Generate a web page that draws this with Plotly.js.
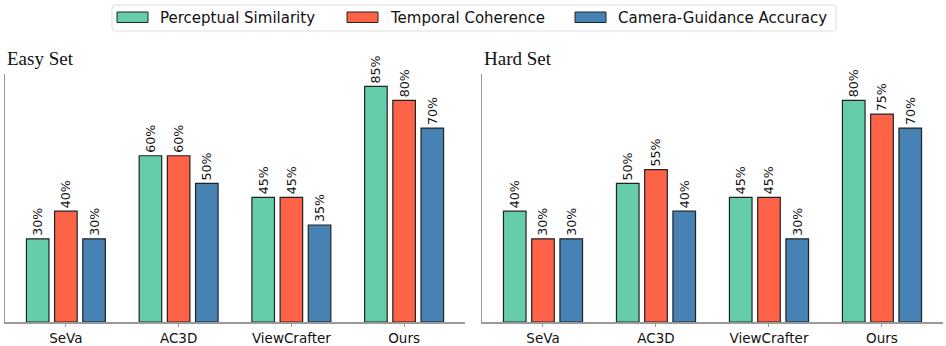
<!DOCTYPE html>
<html>
<head>
<meta charset="utf-8">
<script src="https://cdn.plot.ly/plotly-3.0.1.min.js"></script>
<style>
  body { margin: 0; padding: 0; background: #fff; }
  #chart { width: 946px; height: 346px; }
</style>
</head>
<body>
<div id="chart"></div>
<script>
const methods = ["SeVa", "AC3D", "ViewCrafter", "Ours"];
const seriesNames = ["Perceptual Similarity", "Temporal Coherence", "Camera-Guidance Accuracy"];
const seriesColors = ["#66CDAA", "#FF6347", "#4682B4"];

// easy set scores (%)
const easyPerceptual = [30, 60, 45, 85];
const easyTemporal = [40, 60, 45, 80];
const easyCamera = [30, 50, 35, 70];

// hard set scores (%)
const hardPerceptual = [40, 50, 45, 80];
const hardTemporal = [30, 55, 45, 75];
const hardCamera = [30, 40, 30, 70];

// page geometry (px)
const W = 946, H = 346;
const M = { l: 5, r: 3, t: 74, b: 24 };
// convert page pixels to paper coords (for the hand-made legend)
function px2x(px) { return (px - M.l) / (W - M.l - M.r); }
function px2y(py) { return (H - M.b - py) / (H - M.t - M.b); }

function makeTraces(values, xa, ya) {
  return values.map(function (v, i) {
    return {
      type: "bar",
      x: methods,
      y: v,
      name: seriesNames[i],
      showlegend: false,
      xaxis: xa,
      yaxis: ya,
      marker: { color: seriesColors[i], line: { color: "#222", width: 1.2 } },
      texttemplate: "%{y}%",
      textposition: "outside",
      textangle: -90,
      constraintext: "none",
      cliponaxis: false,
      textfont: { family: "DejaVu Sans", size: 12.6, color: "#111" },
      hoverinfo: "skip"
    };
  });
}

let data = makeTraces([easyPerceptual, easyTemporal, easyCamera], "x", "y")
  .concat(makeTraces([hardPerceptual, hardTemporal, hardCamera], "x2", "y2"));

let xaxisStyle = {
  showline: true,
  linecolor: "#999",
  linewidth: 1.5,
  ticks: "outside",
  ticklen: 3,
  tickcolor: "#999",
  showgrid: false,
  zeroline: false,
  range: [-0.54, 3.54],
  tickfont: { family: "DejaVu Sans", size: 13.5, color: "#111" }
};
let yaxisStyle = {
  range: [0, 89.5],
  showline: true,
  linecolor: "#999",
  linewidth: 1.2,
  showticklabels: false,
  ticks: "",
  showgrid: false,
  zeroline: false
};

let titleFont = { family: "Liberation Serif, Times New Roman, serif", size: 19, color: "#111" };

// legend drawn by hand so the patches are wide like the original
let shapes = [];
let annotations = [
  { text: "Easy Set", xref: "x domain", yref: "y domain", x: 0, y: 1, xanchor: "left", yanchor: "bottom", yshift: 3, showarrow: false, font: titleFont },
  { text: "Hard Set", xref: "x2 domain", yref: "y2 domain", x: 0, y: 1, xanchor: "left", yanchor: "bottom", yshift: 3, showarrow: false, font: titleFont }
];
const legendBox = { x0: 112, x1: 836, y0: 5, y1: 31 };
const legendStarts = [117, 347, 575];
let r = 3;
let bx0 = px2x(legendBox.x0), bx1 = px2x(legendBox.x1);
let by0 = px2y(legendBox.y1), by1 = px2y(legendBox.y0);
let rx = r / (W - M.l - M.r), ry = r / (H - M.t - M.b);
shapes.push({
  type: "path", xref: "paper", yref: "paper",
  path: "M" + (bx0 + rx) + "," + by1 + " L" + (bx1 - rx) + "," + by1 +
        " Q" + bx1 + "," + by1 + " " + bx1 + "," + (by1 - ry) +
        " L" + bx1 + "," + (by0 + ry) + " Q" + bx1 + "," + by0 + " " + (bx1 - rx) + "," + by0 +
        " L" + (bx0 + rx) + "," + by0 + " Q" + bx0 + "," + by0 + " " + bx0 + "," + (by0 + ry) +
        " L" + bx0 + "," + (by1 - ry) + " Q" + bx0 + "," + by1 + " " + (bx0 + rx) + "," + by1 + " Z",
  line: { color: "#ddd", width: 1 },
  fillcolor: "rgba(255,255,255,0.8)"
});
seriesNames.forEach(function (name, i) {
  let s = legendStarts[i];
  shapes.push({
    type: "rect", xref: "paper", yref: "paper",
    x0: px2x(s), x1: px2x(s + 31), y0: px2y(22.5), y1: px2y(12),
    fillcolor: seriesColors[i], line: { color: "#222", width: 1 }
  });
  annotations.push({
    text: name, xref: "paper", yref: "paper",
    x: px2x(s + 41), y: px2y(17.5), xanchor: "left", yanchor: "middle",
    showarrow: false, font: { family: "DejaVu Sans", size: 15, color: "#111" }
  });
});

let layout = {
  width: W,
  height: H,
  margin: M,
  paper_bgcolor: "#fff",
  plot_bgcolor: "#fff",
  barmode: "group",
  bargap: 0.25,
  bargroupgap: 0.2,
  showlegend: false,
  xaxis: Object.assign({ domain: [0, 0.4904], anchor: "y" }, xaxisStyle),
  yaxis: Object.assign({ domain: [0, 1], anchor: "x" }, yaxisStyle),
  xaxis2: Object.assign({ domain: [0.5085, 1], anchor: "y2" }, xaxisStyle),
  yaxis2: Object.assign({ domain: [0, 1], anchor: "x2" }, yaxisStyle),
  shapes: shapes,
  annotations: annotations
};

Plotly.newPlot("chart", data, layout, { displayModeBar: false, staticPlot: true });
</script>
</body>
</html>
